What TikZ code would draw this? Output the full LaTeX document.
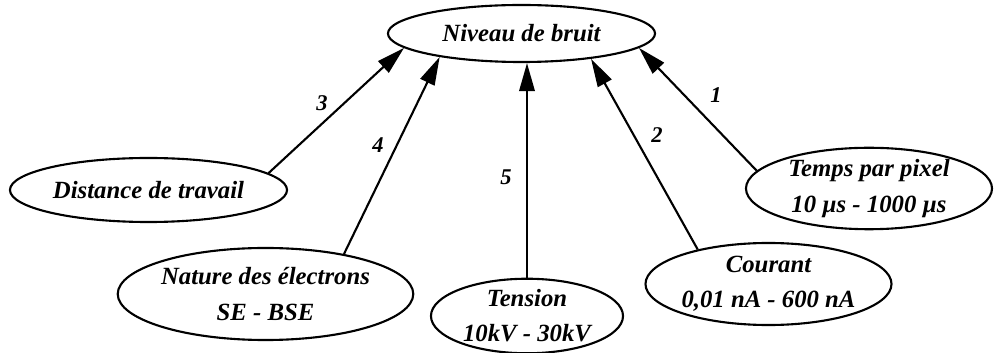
\documentclass[tikz,border=0pt]{standalone}
\usepackage{fontspec}
\setmainfont{Liberation Serif}
\usetikzlibrary{arrows.meta,shapes.geometric}

\begin{document}
\begin{tikzpicture}[
  x=0.025cm, y=-0.025cm,
  >={Triangle[length=20pt,width=11pt]},
  factor/.style={ellipse, draw, line width=1.5pt, inner sep=0pt, align=center,
    font=\fontsize{17.6}{25}\selectfont\bfseries\itshape},
  link/.style={->, line width=1.5pt},
  rank/.style={font=\fontsize{16}{18}\selectfont\bfseries\itshape},
]
\useasboundingbox (0,0) rectangle (994,353);

% Factors
\node[factor, minimum width=6.675cm, minimum height=1.425cm] (niv) at (521.5,33.5) {Niveau de bruit};
\node[factor, minimum width=6.925cm, minimum height=1.6cm] (dist) at (148.5,190) {Distance de travail};
\node[factor, minimum width=7.375cm, minimum height=2.3cm] (nat) at (265.5,294) {Nature des électrons\\SE - BSE};
\node[factor, minimum width=4.8cm, minimum height=1.8cm] (ten) at (527,316) {Tension\\10kV - 30kV};
\node[factor, minimum width=6.025cm, minimum height=2.05cm] (cou) at (768.5,284) {Courant\\0,01 nA - 600 nA};
\node[factor, minimum width=6.15cm, minimum height=2.025cm] (tps) at (869,188.5) {Temps par pixel\\10 µs - 1000 µs};

% Influences
\draw[link] (tps.171) -- (niv.353);
\draw[link] (cou.154) -- (niv.340);
\draw[link] (dist.8) -- (niv.187);
\draw[link] (nat.27) -- (niv.196);
\draw[link] (ten.north) -- (ten.north |- niv.south);

% Ranks
\node[rank] (r1) at (716,95) {1};
\node[rank] (r2) at (657,135) {2};
\node[rank] (r3) at (322,103) {3};
\node[rank] (r4) at (378,145) {4};
\node[rank] (r5) at (506,177) {5};
\end{tikzpicture}
\end{document}
